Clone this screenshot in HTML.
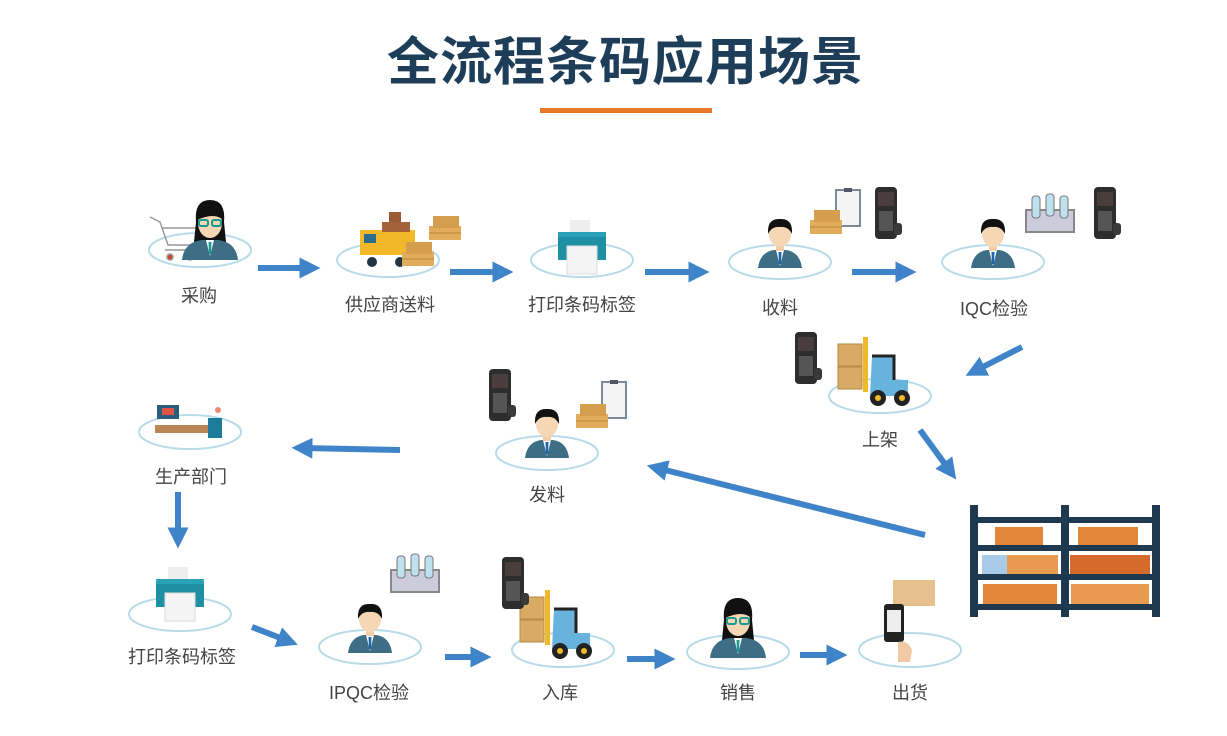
<!DOCTYPE html>
<html><head><meta charset="utf-8"><style>
html,body{margin:0;padding:0;background:#fff;}
body{width:1227px;height:736px;overflow:hidden;position:relative;font-family:"Liberation Sans","Noto Sans CJK SC",sans-serif;}
.t{position:absolute;left:24px;width:1203px;top:20px;text-align:center;font-size:52px;font-weight:bold;color:#1e3d59;letter-spacing:1px;}
.u{position:absolute;left:540px;top:108px;width:172px;height:5px;background:#e8782a;}
.l{position:absolute;font-size:18px;color:#444;transform:translateX(-50%);white-space:nowrap;}
</style></head><body>
<div class="t">全流程条码应用场景</div>
<div class="u"></div>
<svg width="1227" height="736" style="position:absolute;left:0;top:0">
<defs>
<marker id="ah" markerWidth="3.5" markerHeight="3.5" refX="1.75" refY="1.75" orient="auto" markerUnits="strokeWidth">
<path d="M0,0 L3.5,1.75 L0,3.5 z" fill="#3f84c8"/></marker>
<g id="ell"><ellipse cx="0" cy="0" rx="51" ry="17" fill="#fff" stroke="#b9dbe8" stroke-width="2"/></g>
<g id="man">
<path d="M-22,8 Q-20,-8 -6,-10 L6,-10 Q20,-8 22,8 z" fill="#3e6e86"/>
<path d="M-4,-10 L0,6 L4,-10 z" fill="#fff"/><path d="M-1.5,-8 L1.5,-8 L1,4 L-1,4z" fill="#1a66b0"/>
<rect x="-4" y="-16" width="8" height="7" fill="#f1cda9"/>
<ellipse cx="0" cy="-26" rx="11" ry="13" fill="#f6d7b5"/>
<path d="M-12,-26 Q-13,-42 0,-41 Q13,-42 12,-26 Q8,-34 0,-33 Q-8,-34 -12,-26z" fill="#111"/>
</g>
<g id="woman">
<path d="M-14,-28 Q-16,-50 0,-50 Q16,-50 14,-28 L16,-8 L-16,-8z" fill="#111"/>
<path d="M-28,10 Q-26,-8 -8,-10 L8,-10 Q26,-8 28,10 z" fill="#3e6e86"/>
<path d="M-4,-10 L0,6 L4,-10 z" fill="#fff"/><path d="M-1.5,-8 L1.5,-8 L1,4 L-1,4z" fill="#179a8f"/>
<ellipse cx="0" cy="-27" rx="12" ry="15" fill="#f6d7b5"/>
<path d="M-13,-30 Q-10,-44 0,-43 Q12,-43 13,-30 Q5,-38 -13,-30z" fill="#111"/>
<rect x="-11" y="-30" width="9" height="6" rx="2" fill="none" stroke="#179a8f" stroke-width="2"/>
<rect x="2" y="-30" width="9" height="6" rx="2" fill="none" stroke="#179a8f" stroke-width="2"/>
</g>
<g id="scan">
<rect x="-11" y="-28" width="22" height="52" rx="4" fill="#2d2d2d"/>
<rect x="-8" y="-23" width="16" height="14" fill="#4a3d3d"/>
<rect x="-7" y="-4" width="14" height="20" fill="#555"/>
<rect x="8" y="8" width="8" height="12" rx="3" fill="#3a3a3a"/>
</g>
<g id="boxes">
<rect x="-16" y="-6" width="32" height="14" fill="#e1ad5c"/><rect x="-12" y="-16" width="26" height="12" fill="#d59e4f"/><path d="M-16,1 H16" stroke="#b9833a"/>
</g>
<g id="clip"><rect x="-12" y="-20" width="24" height="36" fill="#f4f4f4" stroke="#7a8a98" stroke-width="2"/><rect x="-4" y="-22" width="8" height="4" fill="#556"/></g>
<g id="printer">
<rect x="-12" y="-28" width="20" height="14" fill="#eee"/>
<rect x="-24" y="-16" width="48" height="28" fill="#1f8fa4"/>
<rect x="-15" y="-2" width="30" height="28" fill="#f4f4f4" stroke="#ddd"/>
<rect x="-24" y="-16" width="48" height="5" fill="#2aa3b8"/>
</g>
<g id="fork">
<rect x="-40" y="-48" width="24" height="22" fill="#d9aa64" stroke="#b88a44"/>
<rect x="-40" y="-25" width="24" height="22" fill="#d9aa64" stroke="#b88a44"/>
<rect x="-15" y="-55" width="5" height="55" fill="#f0b92a"/>
<path d="M-6,-36 H16 V-12 H30 V4 H-8z" fill="#68b2de"/>
<path d="M-6,-36 H16 V-12" fill="none" stroke="#222" stroke-width="3"/>
<circle cx="0" cy="6" r="8" fill="#222"/><circle cx="0" cy="6" r="3" fill="#f0b92a"/>
<circle cx="24" cy="6" r="8" fill="#222"/><circle cx="24" cy="6" r="3" fill="#f0b92a"/>
</g>
<g id="rack">
<rect x="-24" y="-12" width="48" height="22" fill="#ccd" stroke="#888" stroke-width="2"/>
<rect x="-18" y="-26" width="8" height="22" rx="3" fill="#bfe0ef" stroke="#777"/>
<rect x="-4" y="-28" width="8" height="22" rx="3" fill="#bfe0ef" stroke="#777"/>
<rect x="10" y="-26" width="8" height="22" rx="3" fill="#bfe0ef" stroke="#777"/>
</g>
</defs>

<g stroke="#3f84c8" stroke-width="6" fill="none" marker-end="url(#ah)">
<line x1="258" y1="268" x2="310" y2="268"/>
<line x1="450" y1="272" x2="503" y2="272"/>
<line x1="645" y1="272" x2="699" y2="272"/>
<line x1="852" y1="272" x2="906" y2="272"/>
<line x1="1022" y1="347" x2="975" y2="371"/>
<line x1="920" y1="430" x2="950" y2="471"/>
<line x1="925" y1="535" x2="657" y2="468"/>
<line x1="400" y1="450" x2="302" y2="448"/>
<line x1="178" y1="492" x2="178" y2="538"/>
<line x1="252" y1="627" x2="288" y2="641"/>
<line x1="445" y1="657" x2="481" y2="657"/>
<line x1="627" y1="659" x2="665" y2="659"/>
<line x1="800" y1="655" x2="837" y2="655"/>
</g>

<use href="#ell" x="200" y="250"/>
<g stroke="#999" stroke-width="1.5" fill="none"><path d="M150,217 L160,222 L168,245 L195,245 L200,228 L162,228"/><circle cx="170" cy="257" r="3" fill="#c43"/><circle cx="190" cy="257" r="3" fill="#c43"/><path d="M165,250 H195"/></g>
<use href="#woman" x="210" y="250"/>
<use href="#ell" x="388" y="260"/>
<rect x="360" y="230" width="55" height="25" fill="#f3b82a"/><rect x="364" y="234" width="12" height="9" fill="#2d6d8c"/>
<rect x="382" y="222" width="14" height="10" fill="#a4623a"/><rect x="396" y="222" width="14" height="10" fill="#a4623a"/><rect x="389" y="212" width="12" height="10" fill="#9a5a35"/>
<circle cx="372" cy="262" r="5" fill="#234"/><circle cx="400" cy="262" r="5" fill="#234"/>
<use href="#boxes" x="418" y="258"/><use href="#boxes" x="445" y="232"/>
<use href="#ell" x="582" y="260"/><use href="#printer" x="582" y="248"/>
<use href="#ell" x="780" y="262"/><use href="#man" x="780" y="260"/>
<use href="#clip" x="848" y="210"/><use href="#boxes" x="826" y="226"/><use href="#scan" x="886" y="215"/>
<use href="#ell" x="993" y="262"/><use href="#man" x="993" y="260"/>
<use href="#rack" x="1050" y="222"/><use href="#scan" x="1105" y="215"/>
<use href="#ell" x="880" y="396"/><use href="#fork" x="878" y="392"/><use href="#scan" x="806" y="360"/>
<use href="#ell" x="547" y="453"/><use href="#man" x="547" y="450"/>
<use href="#scan" x="500" y="397"/><use href="#clip" x="614" y="402"/><use href="#boxes" x="592" y="420"/>
<use href="#ell" x="190" y="432"/>
<rect x="157" y="405" width="22" height="14" fill="#2b5d7e"/><rect x="162" y="408" width="12" height="7" fill="#d54"/>
<rect x="155" y="425" width="58" height="8" fill="#b98754"/><rect x="208" y="418" width="14" height="20" fill="#1f7b9a"/><circle cx="218" cy="410" r="3" fill="#e87"/>
<use href="#ell" x="180" y="614"/><use href="#printer" x="180" y="595"/>
<use href="#ell" x="370" y="647"/><use href="#man" x="370" y="645"/><use href="#rack" x="415" y="582"/>
<use href="#ell" x="563" y="650"/><use href="#fork" x="560" y="645"/><use href="#scan" x="513" y="585"/>
<use href="#ell" x="738" y="652"/><use href="#woman" x="738" y="648"/>
<use href="#ell" x="910" y="650"/>
<rect x="893" y="580" width="42" height="26" fill="#e6c08d"/>
<rect x="884" y="604" width="20" height="38" rx="3" fill="#222"/><rect x="887" y="610" width="14" height="22" fill="#eee"/>
<path d="M898,642 Q908,640 912,650 L910,662 L898,662z" fill="#f1c9a5"/>
<g fill="#1e3850">
<rect x="970" y="505" width="8" height="112"/><rect x="1061" y="505" width="8" height="112"/><rect x="1152" y="505" width="8" height="112"/>
<rect x="970" y="517" width="190" height="6"/><rect x="970" y="545" width="190" height="6"/><rect x="970" y="574" width="190" height="6"/><rect x="970" y="604" width="190" height="6"/>
</g>
<g fill="#e2863a">
<rect x="995" y="527" width="48" height="18"/><rect x="1078" y="527" width="60" height="18"/>
<rect x="1007" y="555" width="51" height="19" fill="#e89a4f"/><rect x="1070" y="555" width="80" height="19" fill="#d66a2a"/>
<rect x="983" y="584" width="74" height="20"/><rect x="1071" y="584" width="78" height="20" fill="#e89a4f"/>
</g>
<rect x="982" y="555" width="25" height="19" fill="#a8cbe8"/>
</svg>
<div class="l" style="left:199px;top:282px">采购</div>
<div class="l" style="left:390px;top:291px">供应商送料</div>
<div class="l" style="left:582px;top:291px">打印条码标签</div>
<div class="l" style="left:780px;top:294px">收料</div>
<div class="l" style="left:994px;top:295px">IQC检验</div>
<div class="l" style="left:880px;top:426px">上架</div>
<div class="l" style="left:547px;top:481px">发料</div>
<div class="l" style="left:191px;top:463px">生产部门</div>
<div class="l" style="left:182px;top:643px">打印条码标签</div>
<div class="l" style="left:369px;top:679px">IPQC检验</div>
<div class="l" style="left:560px;top:679px">入库</div>
<div class="l" style="left:738px;top:679px">销售</div>
<div class="l" style="left:910px;top:679px">出货</div>
</body></html>
